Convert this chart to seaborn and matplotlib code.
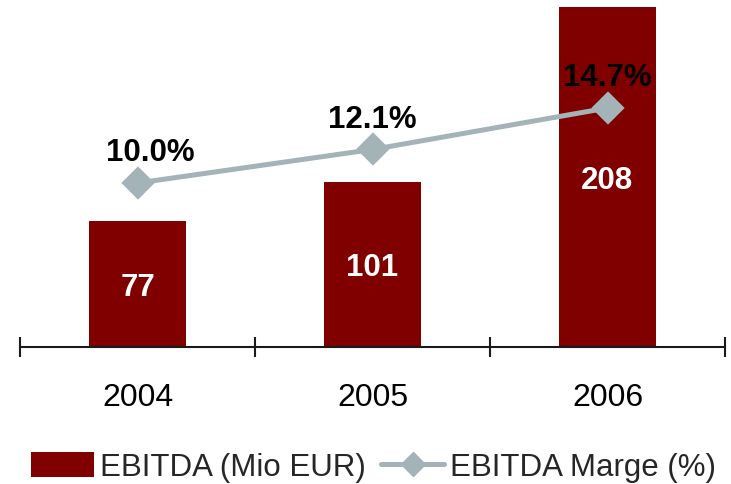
import matplotlib
matplotlib.use("Agg")
import matplotlib.pyplot as plt
import seaborn as sns
import pandas as pd
from matplotlib.patches import Patch
from matplotlib.lines import Line2D

years = ["2004", "2005", "2006"]
ebitda = [77, 101, 208]
margin = [10.0, 12.1, 14.7]
ebitda_labels = ["77", "101", "208"]
margin_labels = ["10.0%", "12.1%", "14.7%"]
legend_labels = ["EBITDA (Mio EUR)", "EBITDA Marge (%)"]

bar_color = "#800000"
line_color = "#A3B3B8"

sns.set_theme(style="white")
plt.rcParams["font.family"] = ["Liberation Sans", "DejaVu Sans"]

df = pd.DataFrame({"year": years, "ebitda": ebitda, "margin": margin})

fig = plt.figure(figsize=(7.31, 4.85), dpi=100)
ax = fig.add_axes([20 / 731, 137 / 485, 705 / 731, 348 / 485])
sns.barplot(data=df, x="year", y="ebitda", ax=ax, color=bar_color,
            saturation=1, width=0.41, edgecolor="none", errorbar=None)
ax.set_ylim(0, 212.8)
ax.set_xlim(-0.5, 2.5)
for i, (v, lab) in enumerate(zip(ebitda, ebitda_labels)):
    ax.annotate(lab, (i, v / 2), xytext=(0, -2), textcoords="offset points",
                ha="center", va="center", color="white",
                fontsize=22.5, fontweight="bold")

ax2 = ax.twinx()
sns.pointplot(data=df, x="year", y="margin", ax=ax2, color=line_color,
              markers="D", markersize=14, linewidth=3.6, errorbar=None)
ax2.set_ylim(-0.276, 21.53)
ax2.set_xlim(-0.5, 2.5)
offsets = [9, 0, 0]
for i, (v, lab) in enumerate(zip(margin, margin_labels)):
    ax2.annotate(lab, (i, v), xytext=(offsets[i], 22), textcoords="offset points",
                 ha="center", va="center", fontsize=22.5, fontweight="bold",
                 color="black")

for a in (ax, ax2):
    for s in ["top", "right", "left"]:
        a.spines[s].set_visible(False)
    a.set_ylabel("")
    a.set_xlabel("")
ax2.spines["bottom"].set_visible(False)
ax2.set_yticks([])
ax.set_yticks([])
ax.spines["bottom"].set_color("#1a1a1a")
ax.spines["bottom"].set_linewidth(1.5)

ax.set_xticks([0, 1, 2])
ax.set_xticklabels(years, fontsize=23, color="black")
ax.tick_params(axis="x", which="major", length=0, pad=25)
ax.set_xticks([-0.5, 0.5, 1.5, 2.5], minor=True)
ax.tick_params(axis="x", which="minor", direction="inout", length=15,
               width=1.5, color="#1a1a1a", bottom=True)

handles = [Patch(facecolor=bar_color, edgecolor="none"),
           Line2D([0], [0], color=line_color, lw=3.6, marker="D", markersize=12)]
fig.legend(handles, legend_labels, loc="center", bbox_to_anchor=(0.511, 0.035),
           ncol=2, frameon=False, fontsize=22.5, handlelength=2.0,
           handleheight=0.85, handletextpad=0.2, columnspacing=0.5,
           borderpad=0, borderaxespad=0)

fig.savefig("out.png", dpi=100)
